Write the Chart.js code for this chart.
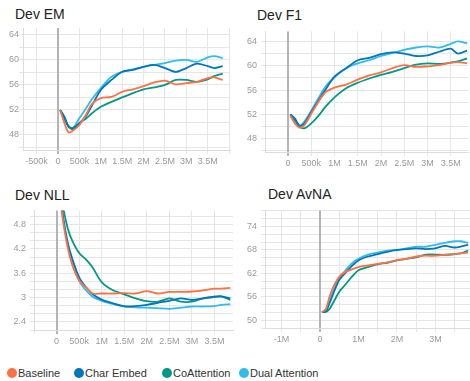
<!DOCTYPE html>
<html>
<head>
<meta charset="utf-8">
<script src="https://cdn.jsdelivr.net/npm/chart.js@4.4.0/dist/chart.umd.min.js"></script>
<style>
  html, body { margin: 0; padding: 0; background: #fff; overflow: hidden; }
  body { width: 470px; height: 381px; position: relative; font-family: 'Liberation Sans', Arial, sans-serif; }
  .title { position: absolute; font-size: 14px; line-height: 14px; color: #222; white-space: nowrap; }
  .panel { position: absolute; }
  .item { position: absolute; top: 367px; display: flex; align-items: center; font-size: 11px; line-height: 12px; color: #333; white-space: nowrap; }
  .dot { width: 10px; height: 10px; border-radius: 50%; margin-right: 1px; }
</style>
</head>
<body>
<div id="legend"></div>
<script>
// series
const seriesNames = ['Baseline', 'Char Embed', 'CoAttention', 'Dual Attention'];
const seriesColors = ['#ff7043', '#0077bb', '#009988', '#33bbee'];

// training steps (shared by every panel)
const steps = [50000, 150000, 250000, 350000, 500000, 650000, 800000, 1000000, 1250000, 1500000,
  1750000, 2000000, 2250000, 2500000, 2750000, 3000000, 3250000, 3500000, 3650000, 3850000];

// Dev EM
const emBaseline = [52.0, 49.9, 48.4, 48.7, 49.6, 51.2, 53.0, 53.9, 54.1, 54.9, 55.3, 55.8, 56.4, 56.7, 56.1, 56.3, 56.5, 57.1, 57.2, 56.8];
const emCharEmbed = [52.0, 50.9, 49.3, 49.1, 49.9, 51.0, 52.8, 55.2, 56.8, 58.1, 58.4, 58.9, 59.2, 58.7, 58.1, 58.7, 59.4, 59.0, 58.7, 59.0];
const emCoAttention = [52.0, 50.6, 49.4, 48.9, 49.9, 50.6, 51.5, 52.5, 53.3, 54.0, 54.7, 55.3, 55.6, 56.0, 56.8, 56.8, 56.5, 56.9, 57.4, 57.8];
const emDualAttention = [52.0, 50.8, 49.3, 49.1, 50.7, 52.2, 53.8, 55.5, 57.3, 58.1, 58.5, 58.9, 59.2, 59.5, 59.9, 60.0, 59.7, 60.4, 60.6, 60.3];

// Dev F1
const f1Baseline = [51.8, 50.5, 49.8, 50.2, 52.1, 54.0, 55.6, 56.4, 56.9, 57.7, 58.4, 58.9, 59.6, 60.1, 59.8, 59.9, 60.1, 60.5, 60.6, 60.4];
const f1CharEmbed = [52.0, 51.3, 50.1, 50.5, 52.4, 54.2, 56.0, 58.2, 59.6, 60.9, 61.3, 61.9, 62.2, 62.0, 61.6, 61.7, 62.3, 62.8, 62.0, 62.5];
const f1CoAttention = [52.0, 51.0, 50.0, 49.7, 50.5, 51.7, 53.2, 54.8, 56.3, 57.2, 57.9, 58.5, 59.0, 59.6, 60.2, 60.4, 60.3, 60.5, 60.7, 61.2];
const f1DualAttention = [52.0, 51.0, 50.1, 50.8, 52.6, 54.6, 56.5, 58.1, 59.6, 60.4, 60.9, 61.6, 62.1, 62.6, 63.0, 63.2, 63.0, 63.6, 64.0, 63.7];

// Dev NLL
const nllBaseline = [5.7, 4.85, 4.22, 3.8, 3.42, 3.26, 3.10, 3.10, 3.10, 3.11, 3.10, 3.16, 3.10, 3.14, 3.14, 3.15, 3.18, 3.22, 3.22, 3.24];
const nllCharEmbed = [5.8, 4.95, 4.34, 3.95, 3.50, 3.26, 3.08, 2.95, 2.86, 2.79, 2.79, 2.82, 2.87, 2.92, 2.98, 2.94, 2.98, 3.02, 3.03, 2.98];
const nllCoAttention = [5.9, 5.2, 4.70, 4.40, 4.10, 3.94, 3.74, 3.38, 3.18, 3.08, 2.98, 2.91, 2.90, 2.98, 2.90, 2.90, 2.98, 3.02, 3.03, 2.94];
const nllDualAttention = [5.7, 4.9, 4.30, 3.90, 3.42, 3.18, 3.02, 2.92, 2.84, 2.78, 2.76, 2.75, 2.74, 2.72, 2.75, 2.78, 2.78, 2.79, 2.82, 2.84];

// Dev AvNA
const avnaBaseline = [52.1, 52.8, 56.1, 58.6, 61.1, 62.3, 62.9, 63.6, 64.0, 64.4, 64.8, 65.4, 65.7, 66.3, 66.5, 66.5, 66.8, 66.9, 67.1, 67.3];
const avnaCharEmbed = [52.1, 52.3, 54.4, 56.9, 60.3, 62.0, 63.6, 65.3, 66.3, 66.9, 67.5, 68.0, 68.2, 68.4, 68.2, 68.4, 69.0, 68.6, 68.8, 69.3];
const avnaCoAttention = [52.1, 52.1, 52.9, 54.6, 57.3, 59.0, 60.8, 62.8, 63.6, 64.3, 64.7, 65.3, 65.7, 66.1, 66.8, 66.8, 66.7, 66.9, 67.1, 67.8];
const avnaDualAttention = [52.1, 52.3, 54.8, 57.6, 60.7, 62.6, 64.3, 65.7, 66.8, 67.3, 67.8, 67.9, 68.4, 68.8, 68.8, 69.3, 69.8, 70.2, 70.2, 69.8];

// y tick labels shown (grid lines come at every step)
const emTicks = [48, 52, 56, 60, 64];
const f1Ticks = [48, 52, 56, 60, 64];
const nllTicks = [2.4, 3, 3.6, 4.2, 4.8];
const avnaTicks = [50, 56, 62, 68, 74];

// x axis works in millions of steps (Chart.js mis-rounds big step sizes)
const panels = [
  { title: 'Dev EM', tx: 15, ty: 7, left: 0, box: [23, 28, 230, 150], xMin: -0.818, xMax: 4.02,
    yMin: 45.6, yMax: 65.1, yStep: 2, yPad: 0, yLabels: emTicks, xLabelEvery: 0.5, xFirstLabel: -0.5,
    series: [emBaseline, emCharEmbed, emCoAttention, emDualAttention] },
  { title: 'Dev F1', tx: 257, ty: 8, left: 235, box: [265, 28, 468, 152], xMin: -0.494, xMax: 3.87,
    yMin: 45.8, yMax: 65.65, yStep: 2, yPad: 4, yLabels: f1Ticks, xLabelEvery: 0.5, xFirstLabel: 0,
    series: [f1Baseline, f1CharEmbed, f1CoAttention, f1DualAttention] },
  { title: 'Dev NLL', tx: 15, ty: 188, left: 0, box: [34, 207, 233, 330], xMin: -0.5, xMax: 3.91,
    yMin: 2.2, yMax: 5.15, yStep: 0.2, yPad: 4, yLabels: nllTicks, xLabelEvery: 0.5, xFirstLabel: 0,
    series: [nllBaseline, nllCharEmbed, nllCoAttention, nllDualAttention] },
  { title: 'Dev AvNA', tx: 268, ty: 187, left: 235, box: [265, 207, 470, 328], xMin: -1.43, xMax: 3.9,
    yMin: 48, yMax: 78.1, yStep: 2, yPad: 4, yLabels: avnaTicks, xLabelEvery: 1, xFirstLabel: -1,
    series: [avnaBaseline, avnaCharEmbed, avnaCoAttention, avnaDualAttention] }
];

const isNear = (a, b) => Math.abs(a - b) < 1e-6;

function formatStep(m) {
  if (isNear(m, 0)) return '0';
  if (Math.abs(m) < 1) return Math.round(m * 1000) + 'k';
  return +m.toFixed(1) + 'M';
}

function makeChart(p) {
  const padTop = 6, padRight = p.box[2] >= 470 ? 0 : 2, xh = 20;
  const yw = p.box[0] - p.left;
  const w = p.box[2] - p.left + padRight;
  const h = p.box[3] - p.box[1] + padTop + xh;

  const title = document.createElement('div');
  title.className = 'title';
  title.style.left = p.tx + 'px';
  title.style.top = p.ty + 'px';
  title.textContent = p.title;
  document.body.appendChild(title);

  const wrap = document.createElement('div');
  wrap.className = 'panel';
  wrap.style.left = p.left + 'px';
  wrap.style.top = (p.box[1] - padTop) + 'px';
  const canvas = document.createElement('canvas');
  canvas.width = w;
  canvas.height = h;
  canvas.style.width = w + 'px';
  canvas.style.height = h + 'px';
  wrap.appendChild(canvas);
  document.body.appendChild(wrap);

  const datasets = p.series.map((vals, i) => ({
    label: seriesNames[i],
    data: steps.map((s, j) => ({ x: s / 1e6, y: vals[j] })),
    borderColor: seriesColors[i],
    backgroundColor: seriesColors[i],
    borderWidth: 1.8,
    pointRadius: 0,
    tension: 0.3,
    fill: false
  }));

  const tickFont = { family: "'Liberation Sans', Arial, sans-serif", size: 9 };
  const isZero = ctx => ctx.tick && isNear(ctx.tick.value, 0);

  new Chart(canvas, {
    type: 'line',
    data: { datasets },
    options: {
      responsive: false,
      animation: false,
      layout: { padding: { top: padTop, right: padRight, left: 0, bottom: 0 } },
      plugins: { legend: { display: false }, tooltip: { enabled: false } },
      scales: {
        x: {
          type: 'linear',
          min: p.xMin,
          max: p.xMax,
          border: { display: true, color: '#dcdcdc' },
          grid: {
            z: -1,
            color: ctx => (isZero(ctx) ? '#b4b4b4' : '#e6e6e6'),
            lineWidth: ctx => (isZero(ctx) ? 2 : 1),
            tickLength: 4
          },
          ticks: {
            stepSize: 0.5,
            includeBounds: false,
            maxTicksLimit: 100,
            autoSkip: false,
            maxRotation: 0,
            padding: 2,
            color: '#9a9a9a',
            font: tickFont,
            callback: v => {
              if (v < p.xFirstLabel - 1e-6 || v > 3.5 + 1e-6) return '';
              const r = v / p.xLabelEvery;
              if (!isNear(r, Math.round(r))) return '';
              return formatStep(v);
            }
          },
          afterFit: s => { s.height = xh; }
        },
        y: {
          type: 'linear',
          min: p.yMin,
          max: p.yMax,
          border: { display: true, color: '#dcdcdc' },
          // horizontal grid goes down first so the zero line stays unbroken
          grid: { z: -2, color: '#e6e6e6', tickLength: 4 },
          ticks: {
            stepSize: p.yStep,
            includeBounds: false,
            maxTicksLimit: 100,
            autoSkip: false,
            padding: p.yPad,
            color: '#9a9a9a',
            font: tickFont,
            callback: v => (p.yLabels.some(t => isNear(t, v)) ? String(+v.toFixed(1)) : '')
          },
          afterFit: s => { s.width = yw; }
        }
      }
    }
  });
}

panels.forEach(makeChart);

// legend
const legendLefts = [7, 74, 162, 239];
seriesNames.forEach((name, i) => {
  const item = document.createElement('div');
  item.className = 'item';
  item.style.left = legendLefts[i] + 'px';
  item.innerHTML = `<span class="dot" style="background:${seriesColors[i]}"></span><span>${name}</span>`;
  document.getElementById('legend').appendChild(item);
});
</script>
</body>
</html>
